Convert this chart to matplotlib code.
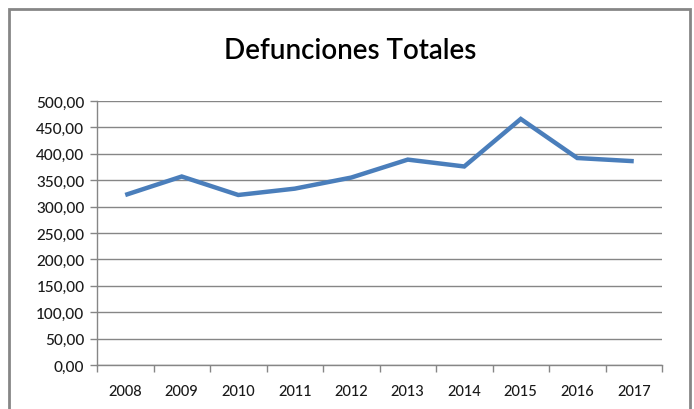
import matplotlib
matplotlib.use("Agg")
import matplotlib.pyplot as plt
from matplotlib.patches import Rectangle
import numpy as np

years = ["2008", "2009", "2010", "2011", "2012", "2013", "2014", "2015", "2016", "2017"]
values = [322, 357, 322, 334, 355, 389, 376, 466, 392, 386]
yticks = [0, 50, 100, 150, 200, 250, 300, 350, 400, 450, 500]
ytick_labels = ["0,00", "50,00", "100,00", "150,00", "200,00", "250,00",
                "300,00", "350,00", "400,00", "450,00", "500,00"]
title = "Defunciones Totales"

plt.rcParams['font.family'] = ['Lato', 'DejaVu Sans']
W, H = 694, 410
fig = plt.figure(figsize=(W/100, H/100), dpi=100)
ax = fig.add_axes([97/W, 1-366/H, (662-97)/W, (366-102)/H])

x = np.arange(len(years))
ax.plot(x, values, color="#4a7ebb", linewidth=3.2, solid_capstyle="butt", solid_joinstyle="miter")
ax.set_xlim(-0.5, len(years)-0.5)
ax.set_ylim(0, 500)
ax.set_yticks(yticks)
ax.set_yticklabels(ytick_labels)
ax.set_xticks(x)
ax.set_xticklabels(years)
ax.set_xticks(np.arange(-0.5, len(years)), minor=True)
ax.tick_params(axis='x', which='major', length=0, pad=14, labelsize=10.5)
ax.tick_params(axis='x', which='minor', length=5, color="#868686", width=1)
ax.tick_params(axis='y', length=5, color="#868686", width=1, labelsize=11, pad=4)
for lab in ax.get_xticklabels() + ax.get_yticklabels():
    lab.set_color("#1a1a1a")
    lab.set_fontweight('medium')
ax.grid(axis='y', color="#868686", linewidth=1)
ax.set_axisbelow(True)
for s in ['top', 'right']:
    ax.spines[s].set_visible(False)
for s in ['left', 'bottom']:
    ax.spines[s].set_color("#868686")
    ax.spines[s].set_linewidth(1)

fig.text(350/W, 1-51/H, title, ha='center', va='center', fontsize=20,
         fontweight='semibold', color='black')

border = Rectangle((9/W, -0.05), (690-9)/W, 1-10/H+0.05, transform=fig.transFigure,
                   fill=False, edgecolor="#868686", linewidth=2, clip_on=False)
fig.patches.append(border)

fig.savefig("out.png", dpi=100)
